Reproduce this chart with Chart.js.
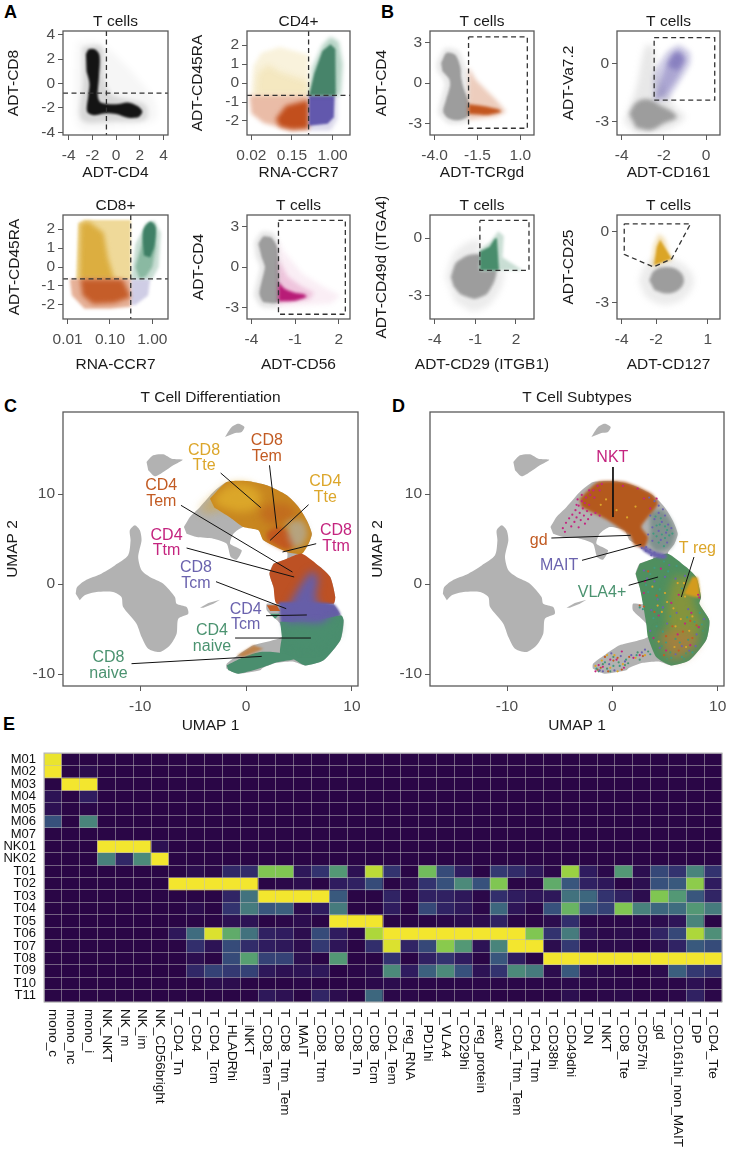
<!DOCTYPE html>
<html>
<head>
<meta charset="utf-8">
<style>
html, body { margin: 0; padding: 0; background: #fff; }
body { position: relative; width: 730px; height: 1155px; overflow: hidden; }
canvas { position: absolute; }
.tag { position: absolute; font: bold 18px "Liberation Sans", Arial, sans-serif; color: #000; line-height: 18px; }
</style>
<script src="https://cdn.jsdelivr.net/npm/chart.js@4/dist/chart.umd.min.js"></script>
</head>
<body>
<div class="tag" style="left:4px;top:3px">A</div>
<div class="tag" style="left:381px;top:3px">B</div>
<div class="tag" style="left:4px;top:397px">C</div>
<div class="tag" style="left:392px;top:397px">D</div>
<div class="tag" style="left:3px;top:715px">E</div>
<script>
// panel A, top left
const a1Wide = [[-3.3,3.4],[-1.5,3.4],[0.5,1.8],[2,0.2],[3.2,-1.4],[3.3,-3],[0,-3.6],[-3.1,-3.6],[-3.5,0]];
const a1Mid = [[-2.8,3],[-1.2,3],[-1,0.4],[-0.4,-0.9],[1,-1.3],[2.5,-1.8],[2.5,-2.95],[0,-3.1],[-2.9,-3],[-2.8,0]];
const a1Core = [[-2.55,2.4],[-2.3,2.8],[-1.8,2.8],[-1.4,2.3],[-1.45,0.5],[-1.55,-1],[-1.3,-1.55],[0,-1.7],[1,-1.55],[1.8,-1.85],[2.2,-2.3],[1.9,-2.75],[1,-2.8],[0,-2.5],[-1,-2.45],[-1.9,-2.6],[-2.45,-2.3],[-2.35,-1],[-2.25,0],[-2.5,1]];
// panel A, CD4+
const a2GoldWide = [[0,-0.65],[0.05,0.9],[0.25,1.6],[0.7,1.9],[1.41,1.5],[1.41,-0.65]];
const a2GoldDense = [[0.1,-0.65],[0.15,0.5],[0.4,1],[0.7,0.6],[1.41,0.1],[1.41,-0.65]];
const a2OrangeWide = [[-0.05,-0.65],[1.41,-0.65],[1.41,-2.45],[1,-2.5],[0.3,-2.1],[0,-1.6]];
const a2OrangeCore = [[0.6,-1.9],[0.85,-1.2],[1.2,-1],[1.41,-0.9],[1.41,-2.4],[1,-2.45],[0.7,-2.3]];
const a2PurpleWide = [[1.42,-0.65],[2.12,-0.65],[2.12,-1.9],[1.95,-2.5],[1.42,-2.5]];
const a2PurpleCore = [[1.42,-0.65],[2.05,-0.65],[2.03,-1.8],[1.88,-2.15],[1.42,-2.25]];
const a2GreenWide = [[1.42,-0.65],[1.5,0.8],[1.75,2],[1.95,2.45],[2.15,2.2],[2.25,1],[2.2,-0.65]];
const a2GreenCore = [[1.42,-0.65],[1.55,0.5],[1.75,1.7],[1.95,2.05],[2.07,1.8],[2.08,0.5],[2.08,-0.65]];
// panel A, CD8+
const a3GoldWide = [[0.2,-0.63],[0.25,2.3],[0.4,2.48],[1.49,2.48],[1.49,-0.63]];
const a3GoldCore = [[0.28,-0.63],[0.3,2.3],[0.5,2.4],[0.85,1.8],[0.95,0.5],[1.1,-0.63]];
const a3OrangeWide = [[0.05,-0.63],[1.49,-0.63],[1.49,-2.1],[1,-2.2],[0.4,-2.2],[0.1,-1.5]];
const a3OrangeCore = [[0.3,-0.65],[1.3,-0.65],[1.49,-1.6],[1.1,-1.9],[0.6,-1.95],[0.35,-1.5]];
const a3Purple = [[1.5,-0.65],[1.95,-0.65],[1.9,-1.5],[1.6,-2],[1.5,-2]];
const a3GreenWide = [[1.5,-0.63],[1.6,1.2],[1.85,2.3],[2.05,2.45],[2.2,1.8],[2.15,0],[2,-0.63]];
const a3GreenMid = [[1.6,0],[1.75,1.2],[1.85,2.2],[2.05,2.3],[2.08,1],[2,0],[1.85,-0.5],[1.7,-0.63]];
const a3GreenCore = [[1.8,0.6],[1.78,1.9],[1.95,2.4],[2.08,2.1],[2.05,1.1],[1.95,0.5]];
// panel A, CD56
const a4Halo = [[-3.8,1.8],[-3.3,2.6],[-2.5,2.5],[-2.14,1.8],[-2.14,-2.9],[-3.3,-2.95],[-3.8,-2.1],[-3.6,-1],[-3.4,0],[-3.7,0.8]];
const a4Gray = [[-3.52,1.72],[-3.18,2.26],[-2.61,2.16],[-2.23,1.48],[-2.14,0],[-2.14,-2.58],[-3.18,-2.58],[-3.45,-1.97],[-3.3,-1.11],[-3.07,0],[-3.3,0.74]];
const a4MagentaWide = [[-2.14,2],[-1.8,1.2],[-0.5,-0.5],[1,-1.5],[2.1,-2.1],[1.5,-2.7],[0,-2.8],[-2.14,-3]];
const a4MagentaMid = [[-2.14,0.6],[-1.5,-0.7],[-0.6,-1.4],[0.3,-1.9],[0,-2.4],[-2.14,-2.7]];
const a4MagentaCore = [[-2.14,-1.1],[-1.7,-1.6],[-1,-1.9],[-0.4,-2],[-0.2,-2.2],[-1,-2.5],[-2.14,-2.55]];
const a4Gate = [[-2.14,3.44],[2.45,3.44],[2.45,-3.49],[-2.14,-3.49],[-2.14,3.44]];
// panel B, TCRgd
const b1Halo = [[-3.9,1.5],[-3.4,2.6],[-2.6,2.4],[-2.2,1.2],[-2.02,0],[-2.02,-2.8],[-3.2,-3],[-3.8,-2.2],[-3.6,-1],[-3.4,0],[-3.85,0.9]];
const b1Gray = [[-3.62,1.5],[-3.3,2.25],[-2.8,2.1],[-2.5,1.2],[-2.45,0.4],[-2.3,-0.4],[-2.02,-1.4],[-2.02,-2.4],[-2.6,-2.75],[-3.2,-2.6],[-3.5,-2.1],[-3.35,-1.3],[-3.1,-0.2],[-3.15,0.3],[-3.55,0.9]];
const b1OrangeWide = [[-2.02,1.2],[-1.57,0.22],[-0.4,-1.25],[0.18,-2.11],[-0.4,-2.48],[-2.02,-2.73]];
const b1OrangeCore = [[-2.02,-1.55],[-1.18,-1.7],[-0.3,-1.94],[-0.11,-2.11],[-0.98,-2.36],[-2.02,-2.29]];
const b1Gate = [[-2.02,3.42],[1.41,3.42],[1.41,-3.34],[-2.02,-3.34],[-2.02,3.42]];
// panel B, CD161
const b2GrayWide = [[-3.9,-3],[-3.3,-1.2],[-3,0.5],[-2.8,1],[-2.5,0.9],[-2.3,-0.5],[-1.5,-2.2],[-1,-2.8],[-2,-3.5],[-3.3,-3.65]];
const b2GrayCore = [[-3.65,-2.6],[-3.3,-2],[-2.7,-1.85],[-2.1,-2.2],[-1.6,-2.5],[-1.4,-2.8],[-2,-3.1],[-2.6,-3.45],[-3.3,-3.35]];
const b2PurpleWide = [[-2.46,-1.89],[-2.46,-0.5],[-1.9,0.6],[-1.3,1],[-0.75,0.6],[-0.75,0],[-1.4,-1.2],[-1.8,-1.89]];
const b2PurpleMid = [[-2.4,-1.85],[-2.1,-0.7],[-1.75,0.3],[-1.3,0.72],[-0.95,0.3],[-1.3,-0.6],[-1.9,-1.6]];
const b2PurpleCore = [[-1.85,-0.1],[-1.5,0.6],[-1.2,0.55],[-1.05,0.15],[-1.35,-0.35]];
const b2Gate = [[-2.46,1.37],[0.41,1.37],[0.41,-1.89],[-2.46,-1.89],[-2.46,1.37]];
// panel B, CD29
const b3GrayWide = [[-3.2,-2],[-2.6,-0.8],[-1.5,-0.2],[-0.66,-0.1],[-0.66,-1.67],[1.1,-1.67],[0.9,-2.6],[0,-3.5],[-1.2,-3.8],[-2.5,-3.3]];
const b3GrayCore = [[-2.8,-2.02],[-2.45,-1.3],[-1.6,-0.9],[-0.66,-0.85],[-0.66,-1.67],[0.55,-1.67],[0.4,-2.25],[-0.15,-2.9],[-1.05,-3.15],[-2.1,-2.9],[-2.6,-2.5]];
const b3GreenWide = [[-0.66,-0.6],[0.1,-0.2],[0.7,0.35],[1.1,0.1],[1,-1],[2.5,-1.67],[-0.66,-1.67]];
const b3GreenCore = [[-0.66,-1.67],[-0.66,-0.7],[0.05,-0.45],[0.42,-0.05],[0.6,0],[0.75,-1.67]];
const b3Gate = [[-0.66,0.91],[2.96,0.91],[2.96,-1.67],[-0.66,-1.67],[-0.66,0.91]];
// panel B, CD127
const b4GrayWide = [[-3,-2.06],[-2.6,-1.4],[-1.8,-1.1],[-0.9,-1.2],[-0.1,-1.6],[0.2,-2.1],[-0.2,-2.7],[-1,-3.05],[-1.9,-3.05],[-2.7,-2.7]];
const b4GrayCore = [[-2.4,-2.06],[-2.1,-1.65],[-1.4,-1.5],[-0.7,-1.65],[-0.38,-2.06],[-0.7,-2.47],[-1.4,-2.62],[-2.1,-2.47]];
const b4GoldWide = [[-2.3,-1.5],[-2.15,-0.6],[-1.85,-0.1],[-1.5,-0.3],[-1.2,-1.0],[-1.05,-1.2]];
const b4GoldCore = [[-2.12,-1.43],[-1.96,-0.66],[-1.77,-0.35],[-1.55,-0.6],[-1.09,-1.15]];
const b4Gate = [[-3.85,0.32],[0,0.32],[-1.09,-1.15],[-2.15,-1.5],[-3.85,-0.97],[-3.85,0.32]];

// UMAP outlines, shared by C and D
const umapMyeloid = [[-16.09,-1.07],[-15.96,-0.33],[-15.08,0.48],[-13.82,1.07],[-12.4,2.07],[-11.14,3.19],[-10.91,4.85],[-10.98,5.96],[-10.5,6.52],[-10.03,5.96],[-9.87,4.85],[-10.19,3],[-9.87,1.52],[-9.09,0.78],[-7.82,0.04],[-6.72,-1.44],[-6.56,-2.19],[-5.62,-2.56],[-5.46,-3.3],[-6.4,-3.85],[-6.56,-5.52],[-7.19,-6.81],[-8.14,-7.56],[-9.24,-7.19],[-9.87,-5.89],[-10.35,-4.41],[-11.61,-2.56],[-11.77,-1.44],[-12.56,-0.89],[-14.13,-0.89],[-15.24,-1.26],[-15.71,-1.81]];
const umapNk = [[-9.4,13.56],[-8.77,14.3],[-7.82,14.41],[-7.03,13.93],[-5.99,13.81],[-6.88,13.19],[-7.82,12.44],[-8.61,11.96],[-9.24,12.63]];
const umapTop = [[-1.99,16.33],[-1.36,17.44],[-0.73,17.81],[-0.16,17.44],[-0.41,16.89],[-1.04,16.78]];
const umapSliver = [[-4.35,-2.63],[-3.56,-2.11],[-2.46,-1.74],[-3.09,-2.19],[-4.04,-2.63]];
const umapTcells = [[-5.87,6.33],[-5.3,7.44],[-4.35,8.56],[-3.09,10.22],[-1.83,11.33],[0.06,11.44],[1.96,10.96],[3.85,9.85],[4.95,8.56],[5.74,7.07],[6.21,5.59],[5.9,4.48],[5.27,3.37],[7,1.89],[7.95,0.78],[8.42,-1.44],[8.26,-2.19],[9.21,-4.04],[8.9,-6.26],[7.32,-8.48],[5.58,-9.04],[4.4,-8.6],[2.9,-8.75],[1.6,-9.3],[1.32,-9.59],[-0.73,-9.96],[-1.83,-9.41],[-1.83,-8.85],[-0.57,-7.74],[0.69,-6.81],[3.38,-5.89],[3.22,-4.41],[1.96,-2.93],[1.96,-2.19],[2.9,-2.19],[2.59,-0.33],[2.21,1.15],[2.59,2.26],[3.85,2.81],[3.85,3.56],[1.64,4.85],[1.17,5.96],[-0.25,6.33],[-1.2,5.59],[-1.51,4.48],[-0.41,3.74],[-0.88,2.7],[-1.45,3],[-1.83,4.48],[-3.09,5.04],[-4.67,5.22],[-5.62,5.59]];
// panel C regions
const cBaseArc = [[-3.41,9.48],[-1.83,11.33],[0.06,11.44],[1.96,10.96],[3.85,9.85],[4.95,8.56],[5.74,7.07],[6.21,5.59],[5.9,4.48],[5.27,3.37],[3.85,3.56],[1.64,4.85],[1.17,5.96],[-0.25,6.33],[-1.51,7.4],[-3,8.5]];
const cGoldFade = [[-4.5,8.3],[-3.4,9.6],[-2.5,9.5],[-2.5,8.2],[-3.8,7.7]];
const cGold = [[-3.2,9.4],[-1.7,10.9],[0.2,11],[1.32,10.04],[1.17,8.56],[-0.57,8],[-2.46,8.56]];
const cArcOrange = [[1.3,8.5],[3.5,9],[4.8,8],[4,7],[2.5,6.5],[1.5,7.2]];
const cLobe = [[1.9,5.7],[2.9,6.3],[4,5.9],[4.7,4.5],[3.85,3.8],[2.5,4.5],[2,4.9]];
const cArcGray = [[3.85,6.89],[5.27,7.07],[5.8,5.59],[5.2,4.2],[4.48,4.11],[4,5.22]];
const cBaseOrange = [[3.85,2.81],[5.27,3.37],[7,1.89],[7.95,0.78],[8.42,-1.44],[8.26,-2.19],[2.9,-2.19],[2.59,-0.33],[2.21,1.15],[2.59,2.26]];
const cBasePurple = [[3.1,-2],[8.2,-2.2],[8.9,-3.5],[6,-4.8],[3.3,-4.6]];
const cBaseGreen = [[3.22,-4.2],[6,-4.2],[9,-3.5],[9.21,-4.04],[8.9,-6.26],[7.32,-8.48],[5.58,-9.04],[4.16,-8.11],[3.22,-7.74],[3.38,-5.89]];
const cTcm = [[4.2,-2],[5.2,0],[6.2,1.4],[6.8,0.7],[6.6,-1.6],[7.3,-2.8],[8,-3.7],[7,-4.7],[4.3,-4.6],[3.8,-4],[3.8,-3]];
const cNaive = [[3.7,-4.8],[5,-4.4],[7,-4.6],[8.6,-4],[8.6,-5.5],[6.5,-7],[4.5,-7]];
const cNaiveLow = [[-1.83,-9.04],[-0.57,-8.3],[1.32,-7.56],[3.53,-7.7],[4.6,-8.3],[2.9,-8.7],[1.6,-9.25],[-0.73,-9.96],[-1.67,-9.59]];
const cNaiveTip = [[-0.88,-7.93],[0.69,-6.81],[1.64,-7.19],[-0.25,-8.11]];
const cTinyOrange = [[1.96,-2.37],[2.9,-2.37],[3.22,-3],[2.27,-3]];
const cTinyGreen = [[2.27,-3.3],[3.22,-3.3],[2.74,-3.85]];
const cLabelText = ['CD8\nTte','CD8\nTem','CD4\nTem','CD4\nTte','CD8\nTtm','CD4\nTtm','CD8\nTcm','CD4\nTcm','CD4\nnaive','CD8\nnaive'];
const cLabelX = [-3.97,1.96,-8.01,7.48,8.49,-7.51,-4.73,-0.03,-3.22,-13];
const cLabelY = [14,15.04,10.04,10.52,5.04,4.56,0.96,-3.67,-6.07,-9.04];
const cLeaders = [
  [[-2.4,12.33],[1.39,8.48]], [[2.21,13.19],[2.9,6.15]], [[-6.15,8.74],[4.38,1.33]], [[5.9,8.81],[2.27,4.85]], [[6.62,4.48],[3.44,3.56]],
  [[-5.62,4],[4.54,0.78]], [[-2.84,0.26],[3.79,-2.74]], [[1.89,-3.52],[5.74,-3.44]], [[-1.04,-6],[6.12,-6]], [[-10.82,-8.85],[1.48,-8.04]]
];
// panel D regions
const dBrown = [[-3.1,9.48],[-1.36,11.33],[1.17,11.33],[3.7,10.04],[4.34,8.93],[3.39,7.44],[2.75,6.33],[3.39,5.22],[3.07,4.11],[2.12,4.3],[1.65,5.41],[-0.41,7.07],[-1.99,8],[-2.94,8.56]];
const dBody = [[2.59,2.26],[3.85,2.81],[5.27,3.37],[7,1.89],[7.95,0.78],[8.42,-1.44],[8.26,-2.19],[9.21,-4.04],[8.9,-6.26],[7.32,-8.48],[5.58,-9.04],[4.16,-8.11],[3.38,-5.89],[3.22,-4.41],[2.9,-2.19],[2.59,-0.33],[2.21,1.15]];
const dOlive = [[5.9,0.8],[7.4,0.6],[7.8,-2.2],[8.5,-4.5],[7.6,-6.3],[5.5,-6.2],[5.2,-3],[5.4,-0.8]];
const dOchre = [[4.4,-5.4],[7,-5.2],[8.2,-6.2],[7,-8],[5.5,-8.3],[4.8,-7]];
const dTreg = [[7.6,0.8],[8.1,0.7],[8.25,-1.45],[6.8,-1.1]];
const dArcMix = [[3.5,8],[4.7,8.3],[5.6,7],[6,5.5],[5.5,4],[4.2,3.6],[3.5,4.5],[3.6,6]];
const dMait = [[2.4,4.4],[3.1,4.2],[4,3.6],[5.2,3.2],[5,2.8],[3.9,3],[3,3.6]];
const dLabelText = ['NKT','gd','MAIT','VLA4+','T reg'];
const dLabelX = [0,-6.99,-5.06,-0.98,8.07];
const dLabelY = [14.04,4.85,2.07,-1,3.93];
const dLeaders = [[[0.06,13],[0.06,7.44]], [[-5.79,5.11],[1.74,5.41]], [[-2.88,2.63],[2.75,4.41]], [[1.55,-0.15],[4.34,0.78]], [[7.75,3],[6.55,-1.44]]];
const dMagentaDots = [[-4.7,6.2],[-4.4,6.8],[-4.5,5.8],[-4.1,7.3],[-3.9,6.4],[-3.8,7.7],[-3.6,6.9],[-3.5,8.2],[-3.4,7.4],[-3.2,6.3],[-3.2,8.7],[-3.1,7.9],[-3,7.1],[-2.9,9.2],[-2.8,8.4],[-2.7,7.6],[-2.6,6.7],[-2.5,9.6],[-2.4,8.1],[-2.3,7.2],[-2.2,8.8],[-2.1,9.9],[-2,7.7],[-1.8,10.4],[-1.6,7.9],[-1.4,10.9],[-1,11.1],[-3.3,9.4],[-2.9,9.9],[-1.2,7.6],[1,10.9],[2.4,10.6],[3,9.5],[3.6,8.4],[4.2,9.5],[3,-1],[4.4,-3.5],[5.6,-2.1],[6.9,-4.4],[3.9,-6],[5.1,-7.4],[7.4,-6.8],[6.2,-5.6],[8.2,-4.8],[8.25,-1.5],[8.15,-1.2],[-0.9,-9.2],[0.4,-8.4],[1.1,-9.3],[-1.3,-9],[2.6,-7.9],[-3.4,8.8],[-2.6,9],[-2.2,10.4],[-1.7,9.6],[-1.2,10.4],[3.1,0.3],[4.6,1.7],[6.3,-1.2],[7.5,-3.2],[-0.2,-8.4],[0.9,-7.5],[-1.6,-9.7],[2,-8.2]];
const dPurpleDots = [[3.5,9.6],[4,9.2],[4.4,8.7],[4.8,8.3],[4.4,7.9],[5,7.6],[4,7.2],[4.7,6.9],[5.3,6.6],[3.6,7.6],[3.8,6.3],[4.4,5.9],[5.1,5.7],[5.6,6.2],[3.4,5.5],[3.8,4.8],[4.6,4.9],[5.2,4.6],[3.2,4.1],[3.6,3.8],[4,3.5],[4.4,3.2],[4.8,3],[2.8,4],[3.2,3.7],[3.7,3.2],[3.3,0.6],[4.3,-1.7],[5.2,-4.4],[6.1,-3.2],[7.2,-2.8],[4.5,-7.1],[6,-7.8],[8,-5.6],[7.3,-7.4],[3.7,-2.9],[5,0.8],[-1.2,-9.6],[-0.3,-8.9],[0.8,-8],[1.8,-7.9],[0.2,-9.6],[3.1,-7.3],[3,1.5],[4,0.3],[5.4,2.1],[6,0.6],[6.9,0.9],[4.8,-2.6],[3.6,-5.2],[6.6,-6.9],[7.9,-6.9],[8.7,-3.9],[-0.9,-9.7],[1.2,-8.6],[-0.1,-7.7],[2.8,-7.6]];
const dTealDots = [[4.1,7.5],[4.6,7.3],[5,6.4],[4.2,6.5],[4.7,5.5],[5.4,5.4],[4.2,5.3],[3.9,5.6],[5,5.1],[5.7,5.6],[4.4,4.6],[4.9,4.2],[4.5,6.6],[5.2,6],[4,1.8],[5.3,1.4],[6.1,2],[3.4,-0.9],[6.6,-0.5],[7.1,-3.7],[4.8,-5.3],[6.4,-6.5],[5.6,-8.2],[7.8,-4.2],[8.5,-4.5],[6.6,-8.1],[2.6,-2.6],[2.9,-2.8],[-0.7,-8.7],[0.7,-9.1],[-1.5,-9.4],[1.3,-8.4],[3.6,-7.8],[3.6,1.1],[4.9,2.5],[3.2,-0.1],[4.5,-0.6],[3.9,-3.8],[5.5,-3.6],[8.3,-3.2],[4.2,-4.7],[5.1,-6.5],[7.6,-7.6],[0.1,-9.1],[2.3,-7.9]];
const dGoldDots = [[-0.6,9.4],[0.4,8.2],[1.4,7.4],[-1.1,8.8],[2.2,8.6],[6.2,0.1],[6.9,-1.4],[5.8,-2.7],[6.5,-3.9],[7.3,-5.2],[4.7,-3.1],[3.8,-0.3],[5,-1],[4.4,-6.4],[5.9,-7],[7.6,-3.6],[-0.2,-9.3],[1,-8.9],[2.2,-8.2],[-1,-8.5],[0.2,-7.9],[3.1,-7.9],[-1.6,-9.1],[5.2,-2],[6,-4.7],[7,-7],[6.8,0.1],[4.3,-2.4],[0.5,-9.7],[-0.5,-7.9]];
const dOrangeDots = [[2.6,-2.4],[3,-2.5],[5.1,-5.8],[6.3,-7.4],[4.9,-7.9],[7.6,-6],[6.7,-5.3],[5.7,-4.7],[-0.4,-9.7],[0.9,-9.5],[1.6,-8.1],[-1.1,-9.3],[0.1,-8.5],[2.9,-8],[-0.7,-8.1],[4.2,-1.3],[3.4,1.4],[8,-4.6],[7.4,-4.1],[4,-3.1],[-1.4,-9.5],[0.5,-8.2]];
const dGreenDots = [[-1.3,-9.7],[-0.5,-9.4],[0.6,-8.7],[1.2,-9],[2.4,-7.6],[0.1,-8.1],[-0.9,-8.9],[3.4,-7.5],[5.2,-8.3],[7,-7.7],[8.6,-5.2],[7.2,-6.2],[5.5,-7.6],[6.8,-8.3],[4.7,-6.9],[6,-6.1],[-0.2,-9.7],[1.5,-8.8],[2.6,-8.4]];

// panel E heatmap
const rowLabels = ['M01','M02','M03','M04','M05','M06','M07','NK01','NK02','T01','T02','T03','T04','T05','T06','T07','T08','T09','T10','T11'];
const colLabels = ['mono_c','mono_nc','mono_i','NK_NKT','NK_m','NK_im','NK_CD56bright','T_CD4_Tn','T_CD4','T_CD4_Tcm','T_HLADRhi','T_iNKT','T_CD8_Tem','T_CD8_Ttm_Tem','T_MAIT','T_CD8_Ttm','T_CD8','T_CD8_Tn','T_CD8_Tcm','T_CD4_Tem','T_reg_RNA','T_PD1hi','T_VLA4','T_CD29hi','T_reg_protein','T_actv','T_CD4_Ttm_Tem','T_CD4_Ttm','T_CD38hi','T_CD49dhi','T_DN','T_NKT','T_CD8_Tte','T_CD57hi','T_gd','T_CD161hi_non_MAIT','T_DP','T_CD4_Tte'];
const heatValues = [
  [.97,0,0,0,0,0,0,0,0,0,0,0,0,0,0,0,0,0,0,0,0,0,0,0,0,0,0,0,0,0,0,0,0,0,0,0,0,0],
  [1,0,.03,0,0,0,0,0,0,0,0,0,0,0,0,0,0,0,0,0,0,0,0,0,0,0,0,0,0,0,0,0,0,0,0,0,0,0],
  [0,1,1,0,0,0,0,0,0,0,0,0,0,0,0,0,0,0,0,0,0,0,0,0,0,0,0,0,0,0,0,0,0,0,0,0,0,0],
  [.06,0,.1,0,0,0,0,0,0,0,0,0,0,0,0,0,0,0,0,0,0,0,0,0,0,0,0,0,0,0,0,0,0,0,0,0,0,0],
  [.05,0,.01,0,0,0,0,0,0,0,0,0,0,0,0,0,0,0,0,0,0,0,0,0,0,0,0,0,0,0,0,0,0,0,0,0,0,0],
  [.3,0,.48,0,0,0,0,0,0,0,0,0,0,0,0,0,0,0,0,0,0,0,0,0,0,0,0,0,0,0,0,0,0,0,0,0,0,0],
  [0,0,0,0,0,0,0,0,0,0,0,0,0,0,0,0,0,0,0,0,0,0,0,0,0,0,0,0,0,0,0,0,0,0,0,0,0,0],
  [0,0,0,1,1,1,.05,0,0,0,0,0,0,0,0,0,0,0,0,0,0,0,0,0,0,0,0,0,0,0,0,0,0,0,0,0,0,0],
  [0,0,0,.47,.15,.5,1,0,0,0,0,0,0,0,0,0,0,0,0,0,0,0,0,0,0,0,0,0,0,0,0,0,0,0,0,0,0,0],
  [0,0,0,0,0,0,0,0,.03,.01,.15,.17,.72,.72,.08,.2,.55,.05,.85,.2,0,.68,.28,.1,0,.22,.17,.08,.01,.78,.1,.02,.55,.04,.27,.2,.48,.2],
  [0,0,0,0,0,0,0,1,1,1,1,1,0,.01,.03,0,.1,.12,.28,0,.03,.2,.3,.5,.3,.72,0,.01,.62,.32,.12,.08,0,.04,.3,.33,.75,.1],
  [0,0,0,0,0,0,0,0,0,0,.14,.42,1,1,1,1,.33,0,0,.13,.01,.12,.12,.08,.01,.18,.1,.07,.08,.42,.38,.2,.12,.03,.72,.55,.32,.14],
  [0,0,0,0,0,0,0,0,.03,0,.2,.45,.32,.35,.03,.1,.45,0,0,.1,0,.27,.13,.08,.01,.38,.07,.01,.3,.65,.32,.25,.72,.47,.38,.4,.55,.45],
  [0,0,0,0,0,0,0,0,0,0,.05,.06,0,.01,.03,0,1,1,1,0,0,0,.01,.03,.03,.12,0,0,.03,.18,.01,.01,.01,.02,.03,.07,.48,0],
  [0,0,0,0,0,0,0,.08,.4,.92,.62,.42,.12,.1,.03,.28,.1,.02,.82,1,1,1,1,1,1,1,1,.72,.2,.45,.05,.02,.03,.02,.14,.27,.82,.52],
  [0,0,0,0,0,0,0,0,.18,.06,.28,.17,.1,.08,.03,.22,.07,0,.18,.92,.14,.27,.74,.55,.06,.48,1,1,.03,.22,.02,.02,.02,0,.04,.13,.33,.28],
  [0,0,0,0,0,0,0,0,.04,0,.28,.58,.25,.25,.04,0,.55,0,0,.2,0,.12,.2,.1,0,.32,.1,0,1,1,1,1,1,1,1,1,1,1],
  [0,0,0,0,0,0,0,0,.15,.25,.22,.25,.08,.05,.06,.08,0,.01,.03,.5,.1,.36,.5,.3,.06,.2,.5,.45,.03,.33,.03,.02,.01,0,.03,.35,.22,.18],
  [0,0,0,0,0,0,0,0,0,.03,.03,0,0,0,.01,0,0,0,.02,.03,.01,.01,.01,.01,.01,.01,.01,.01,.01,.02,.01,.01,.01,0,.01,.01,.05,.01],
  [0,0,0,0,0,0,0,0,0,0,0,0,.08,.05,0,.14,.03,0,.38,.01,.01,0,.01,.01,.01,0,0,0,0,.04,0,.01,.02,0,0,.01,.12,.01]
];
const heatStops = ['#2a0646','#2f1c5f','#33336f','#37517c','#3f6c7f','#4c8a7a','#5aa56f','#77c257','#a3d53e','#d5e02f','#f3e62e'];

const FONT = '"Liberation Sans", Arial, sans-serif';
Chart.defaults.font.family = FONT;
Chart.defaults.animation = false;
Chart.defaults.responsive = false;
Chart.defaults.devicePixelRatio = 1;
Chart.defaults.plugins.legend.display = false;
Chart.defaults.plugins.tooltip.enabled = false;

const GREEN = '#4b9370', GOLD = '#dca62a', ORANGE = '#c25b23', PURPLE = '#6b63ae', MAGENTA = '#c4247f';
const GATE = '#333333', AXIS = '#595959', TICKTEXT = '#4d4d4d', TITLETEXT = '#1a1a1a', UMAPGRAY = '#b2b2b2', CLOUDGRAY = '#9d9d9d';

const pts = a => a.map(p => ({x: p[0], y: p[1]}));

function area(poly, color, blur = 1, tension = 0) {
    return {data: pts(poly), showLine: true, fill: 'shape', backgroundColor: color, borderWidth: 0, pointRadius: 0, tension, blur};
}
function line(poly, dashed = true) {
    return {data: pts(poly), showLine: true, fill: false, borderColor: dashed ? GATE : '#111111', borderWidth: dashed ? 1.3 : 1, borderDash: dashed ? [5, 3.5] : [], pointRadius: 0, blur: 0};
}
function dots(list, color) {
    return {data: pts(list), backgroundColor: color, borderWidth: 0, pointRadius: 1.1, blur: 0.4};
}

// datasets paint last to first, so each layer sets the blur for the one after it
function setBlur(chart, index) {
    const ds = chart.data.datasets[index];
    chart.ctx.filter = ds && ds.blur ? `blur(${ds.blur}px)` : 'none';
}
const softEdges = {
    id: 'softEdges',
    beforeDatasetsDraw(chart) { setBlur(chart, chart.data.datasets.length - 1); },
    afterDatasetDraw(chart, args) { setBlur(chart, args.index - 1); },
    afterDatasetsDraw(chart) { chart.ctx.filter = 'none'; }
};
const frame = {
    id: 'frame',
    afterDraw(chart, args, opts) {
        const {left, top, width, height} = chart.chartArea;
        chart.ctx.save();
        chart.ctx.strokeStyle = opts.color;
        chart.ctx.lineWidth = opts.width;
        chart.ctx.strokeRect(left, top, width, height);
        chart.ctx.restore();
    }
};
const dataLabels = {
    id: 'dataLabels',
    afterDatasetsDraw(chart, args, opts) {
        if (!opts.text) return;
        const ctx = chart.ctx;
        ctx.save();
        ctx.font = `16px ${FONT}`;
        ctx.textAlign = 'center';
        ctx.textBaseline = 'middle';
        opts.text.forEach((t, i) => {
            const rows = t.split('\n');
            const px = chart.scales.x.getPixelForValue(opts.x[i]);
            const py = chart.scales.y.getPixelForValue(opts.y[i]);
            ctx.fillStyle = opts.colors[i];
            rows.forEach((r, k) => ctx.fillText(r, px, py + (k - (rows.length - 1) / 2) * 15.7));
        });
        ctx.restore();
    }
};
// the axis title squeezes text to the plot width, the long one is written here instead
const wideXTitle = {
    id: 'wideXTitle',
    afterDraw(chart, args, opts) {
        if (!opts.text) return;
        const {left, right} = chart.chartArea;
        const ctx = chart.ctx;
        ctx.save();
        ctx.font = `15.5px ${FONT}`;
        ctx.fillStyle = TITLETEXT;
        ctx.textAlign = 'center';
        ctx.textBaseline = 'middle';
        ctx.fillText(opts.text, (left + right) / 2, chart.height - 9);
        ctx.restore();
    }
};

function addCanvas(left, top, w, h) {
    const c = document.createElement('canvas');
    c.width = w; c.height = h;
    c.style.left = left + 'px';
    c.style.top = top + 'px';
    c.style.width = w + 'px';
    c.style.height = h + 'px';
    document.body.appendChild(c);
    return c;
}

function axis(range, ticks, tickText, title, fitFn, pad) {
    return {
        type: 'linear', min: range[0], max: range[1],
        afterBuildTicks: s => { s.ticks = ticks.map(v => ({value: v})); },
        afterFit: fitFn,
        grid: {drawOnChartArea: false, drawTicks: true, tickLength: 5, color: AXIS, lineWidth: 1},
        border: {display: false},
        ticks: {
            autoSkip: false, maxRotation: 0, minRotation: 0, color: TICKTEXT, padding: pad,
            font: {size: 15.5},
            callback: v => tickText ? tickText[ticks.indexOf(v)] : String(v)
        },
        title: {display: !!title, text: title, color: TITLETEXT, padding: 0, font: {size: 15.5, lineHeight: '18px'}}
    };
}

// o: box [l,t,r,b], gap title to box, yTitleX, xTitleY, ranges, ticks, layers bottom-up
function panel(o) {
    const [l, t, r, b] = o.box;
    const gap = o.gap || 0;
    const mt = 18 + gap, mr = 14;
    const left = o.yTitleX - 9;
    const ml = l - left, mb = o.xTitleY + 9 - b;
    const canvas = addCanvas(left, t - mt, ml + (r - l) + mr, mt + (b - t) + mb);
    new Chart(canvas, {
        type: 'scatter',
        data: {datasets: o.layers.slice().reverse()},
        options: {
            layout: {padding: {top: 0, right: mr, left: 0, bottom: 0}},
            plugins: {
                title: {display: true, text: o.title, color: TITLETEXT, fullSize: false, padding: {top: 0, bottom: gap}, font: {size: 15.5, weight: 'normal', lineHeight: '18px'}},
                frame: {color: AXIS, width: 1.3},
                dataLabels: o.labels || {},
                wideXTitle: {text: o.xTitleWide}
            },
            scales: {
                x: axis(o.xRange, o.xTicks, o.xTickText, o.xTitle, s => { s.height = mb; }, 6),
                y: axis(o.yRange, o.yTicks, o.yTickText, o.yTitle, s => { s.width = ml; }, 3)
            }
        },
        plugins: [softEdges, frame, dataLabels, wideXTitle]
    });
}

const logLabels2 = ['0.02', '0.15', '1.00'];
const logLabels3 = ['0.01', '0.10', '1.00'];

panel({box: [63, 31, 168, 135], title: 'T cells', xTitle: 'ADT-CD4', yTitle: 'ADT-CD8', yTitleX: 14, xTitleY: 173,
    xRange: [-4.48, 4.37], yRange: [-4.22, 4.3], xTicks: [-4, -2, 0, 2, 4], yTicks: [-4, -2, 0, 2, 4],
    layers: [area(a1Wide, 'rgba(0,0,0,.035)', 3, .3), area(a1Mid, 'rgba(0,0,0,.13)', 2.5, .3), area(a1Core, '#141414', 1, .3),
        line([[-0.82, 4.3], [-0.82, -4.22]]), line([[-4.48, -0.79], [4.37, -0.79]])]});

panel({box: [247, 31, 350, 135], title: 'CD4+', xTitle: 'RNA-CCR7', yTitle: 'ADT-CD45RA', yTitleX: 198, xTitleY: 173,
    xRange: [-0.107, 2.43], yRange: [-2.74, 2.75], xTicks: [0, 1, 2], xTickText: logLabels2, yTicks: [-2, -1, 0, 1, 2],
    layers: [area(a2GoldWide, 'rgba(228,200,110,.24)', 2), area(a2GoldDense, 'rgba(225,190,80,.2)', 3),
        area(a2OrangeWide, 'rgba(205,95,45,.42)', 2), area(a2OrangeCore, '#c24f1d', 2.5),
        area(a2PurpleWide, 'rgba(107,99,174,.25)', 2), area(a2PurpleCore, '#6258ad', .8),
        area(a2GreenWide, 'rgba(75,147,112,.4)', 2), area(a2GreenCore, '#47846a', 1),
        line([[1.41, 2.75], [1.41, -2.74]]), line([[-0.107, -0.65], [2.43, -0.65]])]});

panel({box: [63, 215, 168, 319], title: 'CD8+', xTitle: 'RNA-CCR7', yTitle: 'ADT-CD45RA', yTitleX: 15, xTitleY: 365,
    xRange: [-0.11, 2.37], yRange: [-2.74, 2.74], xTicks: [0, 1, 2], xTickText: logLabels3, yTicks: [-2, -1, 0, 1, 2],
    layers: [area(a3GoldWide, 'rgba(226,185,70,.55)', 1.2), area(a3GoldCore, 'rgba(214,160,35,.75)', 2.5),
        area(a3OrangeWide, 'rgba(205,100,50,.5)', 1.5), area(a3OrangeCore, 'rgba(194,84,30,.9)', 2.5),
        area(a3Purple, 'rgba(107,99,174,.32)', 1.5),
        area(a3GreenWide, 'rgba(75,147,112,.3)', 1.5), area(a3GreenMid, 'rgba(75,147,112,.5)', 1.5), area(a3GreenCore, '#3f8066', 1, .3),
        line([[1.49, 2.74], [1.49, -2.74]]), line([[-0.11, -0.63], [2.37, -0.63]])]});

panel({box: [247, 215, 350, 319], title: 'T cells', xTitle: 'ADT-CD56', yTitle: 'ADT-CD4', yTitleX: 199, xTitleY: 365,
    xRange: [-4.3, 2.77], yRange: [-3.84, 3.84], xTicks: [-4, -1, 2], yTicks: [-3, 0, 3],
    layers: [area(a4Halo, 'rgba(150,150,150,.25)', 2, .2), area(a4Gray, CLOUDGRAY, 1, .2),
        area(a4MagentaWide, 'rgba(196,36,127,.08)', 2.5), area(a4MagentaMid, 'rgba(196,36,127,.2)', 2), area(a4MagentaCore, '#b81c77', 1.5, .2),
        line(a4Gate)]});

panel({box: [430, 31, 534, 135], title: 'T cells', xTitle: 'ADT-TCRgd', yTitle: 'ADT-CD4', yTitleX: 382, xTitleY: 173,
    xRange: [-4.27, 1.8], yRange: [-3.84, 3.86], xTicks: [-4, -1.5, 1], xTickText: ['-4.0', '-1.5', '1.0'], yTicks: [-3, 0, 3],
    layers: [area(b1Halo, 'rgba(150,150,150,.22)', 2, .2), area(b1Gray, CLOUDGRAY, 1.2, .3),
        area(b1OrangeWide, 'rgba(194,91,35,.3)', 2), area(b1OrangeCore, '#c3561f', 1.5, .2),
        line(b1Gate)]});

panel({box: [617, 31, 720, 135], title: 'T cells', xTitle: 'ADT-CD161', yTitle: 'ADT-Va7.2', yTitleX: 569, xTitleY: 173,
    xRange: [-4.22, 0.66], yRange: [-3.71, 1.72], xTicks: [-4, -2, 0], yTicks: [-3, 0],
    layers: [area(b2GrayWide, 'rgba(150,150,150,.22)', 3, .3), area(b2GrayCore, CLOUDGRAY, 2, .4),
        area(b2PurpleWide, 'rgba(107,99,174,.3)', 2.5, .2), area(b2PurpleMid, 'rgba(100,90,172,.35)', 2.5, .2), area(b2PurpleCore, 'rgba(95,85,170,.45)', 2.5, .3),
        line(b2Gate)]});

panel({box: [430, 215, 534, 319], title: 'T cells', xTitleWide: 'ADT-CD29 (ITGB1)', yTitle: 'ADT-CD49d (ITGA4)', yTitleX: 382, xTitleY: 365,
    xRange: [-4.34, 3.33], yRange: [-4.19, 1.19], xTicks: [-4, -1, 2], yTicks: [-3, 0],
    layers: [area(b3GrayWide, 'rgba(150,150,150,.18)', 3, .2), area(b3GrayCore, CLOUDGRAY, 1.5, .2),
        area(b3GreenWide, 'rgba(75,147,112,.3)', 1.5), area(b3GreenCore, '#488d6c', .8),
        line(b3Gate)]});

panel({box: [617, 215, 720, 319], title: 'T cells', xTitle: 'ADT-CD127', yTitle: 'ADT-CD25', yTitleX: 569, xTitleY: 365,
    xRange: [-4.27, 1.71], yRange: [-3.69, 0.69], xTicks: [-4, -2, 1], yTicks: [-3, 0],
    layers: [area(b4GrayWide, 'rgba(150,150,150,.18)', 3, .4), area(b4GrayCore, CLOUDGRAY, 1.5, .4),
        area(b4GoldWide, 'rgba(220,166,42,.35)', 2), area(b4GoldCore, '#dba526', 1.2),
        line(b4Gate)]});

const umapGray = () => [area(umapMyeloid, UMAPGRAY, .5, .25), area(umapNk, UMAPGRAY, .5, .25), area(umapTop, UMAPGRAY, .5, .25), area(umapSliver, UMAPGRAY, .5), area(umapTcells, UMAPGRAY, .5, .2)];

panel({box: [63, 412, 358, 686], gap: 5, title: 'T Cell Differentiation', xTitle: 'UMAP 1', yTitle: 'UMAP 2', yTitleX: 13, xTitleY: 726,
    xRange: [-17.29, 10.57], yRange: [-11.33, 19.11], xTicks: [-10, 0, 10], yTicks: [-10, 0, 10],
    labels: {text: cLabelText, x: cLabelX, y: cLabelY, colors: [GOLD, ORANGE, ORANGE, GOLD, MAGENTA, MAGENTA, PURPLE, PURPLE, GREEN, GREEN]},
    layers: [...umapGray(),
        area(cGoldFade, 'rgba(220,166,42,.4)', 4, .2), area(cBaseArc, '#c8861f', .6, .2), area(cGold, '#dba629', 4, .3), area(cArcOrange, 'rgba(190,90,30,.55)', 4, .3),
        area(cLobe, '#c2581f', 2, .3), area(cArcGray, 'rgba(178,170,150,.8)', 3, .3),
        area(cBaseOrange, '#bd5124', .5, .2), area(cBasePurple, '#665ea8', 1, .2), area(cBaseGreen, '#4a8e6e', .6, .2),
        area(cTcm, '#665ea8', 4, .25), area(cNaive, '#4a8e6e', 4, .25),
        area(cNaiveLow, '#4a8e6e', .6, .25), area(cNaiveTip, 'rgba(194,120,50,.8)', 1.2), area(cTinyOrange, ORANGE, .6), area(cTinyGreen, GREEN, .6),
        ...cLeaders.map(s => line(s, false))]});

panel({box: [430, 412, 724, 686], gap: 5, title: 'T Cell Subtypes', xTitle: 'UMAP 1', yTitle: 'UMAP 2', yTitleX: 378, xTitleY: 726,
    xRange: [-17.31, 10.6], yRange: [-11.33, 19.11], xTicks: [-10, 0, 10], yTicks: [-10, 0, 10],
    labels: {text: dLabelText, x: dLabelX, y: dLabelY, colors: [MAGENTA, ORANGE, PURPLE, GREEN, GOLD]},
    layers: [...umapGray(),
        area(dBody, '#4f8f5f', .5, .2), area(dOlive, 'rgba(150,150,50,.75)', 5, .25), area(dOchre, 'rgba(175,125,60,.8)', 5, .25),
        area(dArcMix, 'rgba(110,135,130,.75)', 2, .2), area(dMait, PURPLE, 1, .2), area(dBrown, '#b4591d', 1.5, .2), area(dTreg, '#d39b1d', 1, .2),
        dots(dGreenDots, GREEN), dots(dOrangeDots, ORANGE), dots(dGoldDots, GOLD), dots(dTealDots, '#3f9a80'), dots(dPurpleDots, PURPLE), dots(dMagentaDots, MAGENTA),
        ...dLeaders.map(s => line(s, false))]});

// E
function heatColor(v) {
    const pos = v * (heatStops.length - 1);
    const i = Math.min(Math.floor(pos), heatStops.length - 2);
    const f = pos - i;
    const hex = (s, k) => parseInt(s.substr(1 + k * 2, 2), 16);
    const mix = k => Math.round(hex(heatStops[i], k) * (1 - f) + hex(heatStops[i + 1], k) * f);
    return `rgb(${mix(0)},${mix(1)},${mix(2)})`;
}
const columnText = {
    id: 'columnText',
    afterDraw(chart) {
        const ctx = chart.ctx, xs = chart.scales.x;
        ctx.save();
        ctx.font = `13.5px ${FONT}`;
        ctx.fillStyle = '#111111';
        ctx.textAlign = 'left';
        ctx.textBaseline = 'middle';
        colLabels.forEach((t, i) => {
            ctx.save();
            ctx.translate(xs.getPixelForValue(i), chart.chartArea.bottom + 7);
            ctx.rotate(Math.PI / 2);
            ctx.fillText(t, 0, 0);
            ctx.restore();
        });
        ctx.restore();
    }
};
new Chart(addCanvas(0, 751, 730, 404), {
    type: 'bar',
    data: {
        labels: colLabels,
        datasets: heatValues.map((row, r) => ({
            data: row.map(() => [r, r + 1]),
            backgroundColor: row.map(heatColor),
            barPercentage: 1, categoryPercentage: 1, grouped: false, borderWidth: 0
        }))
    },
    options: {
        layout: {padding: {top: 2, right: 8}},
        plugins: {frame: {color: '#b5b5b5', width: 1}},
        scales: {
            x: {
                offset: true,
                afterFit: s => { s.height = 153; s.paddingLeft = 0; s.paddingRight = 0; },
                grid: {offset: true, z: 1, color: 'rgba(190,190,190,.5)', lineWidth: 1, drawTicks: false},
                border: {display: false},
                ticks: {display: false}
            },
            y: {
                min: 0, max: 20, reverse: true,
                afterFit: s => { s.width = 0; s.paddingTop = 0; s.paddingBottom = 0; },
                grid: {z: 1, color: 'rgba(190,190,190,.5)', lineWidth: 1, drawTicks: false},
                border: {display: false},
                ticks: {display: false, stepSize: 1}
            },
            rows: {
                type: 'category', labels: rowLabels, position: 'left', offset: true, display: true,
                afterFit: s => { s.width = 44; s.paddingTop = 0; s.paddingBottom = 0; },
                grid: {display: false},
                border: {display: false},
                ticks: {autoSkip: false, color: '#111111', padding: 0, font: {size: 13}}
            }
        }
    },
    plugins: [frame, columnText]
});
</script>
</body>
</html>
